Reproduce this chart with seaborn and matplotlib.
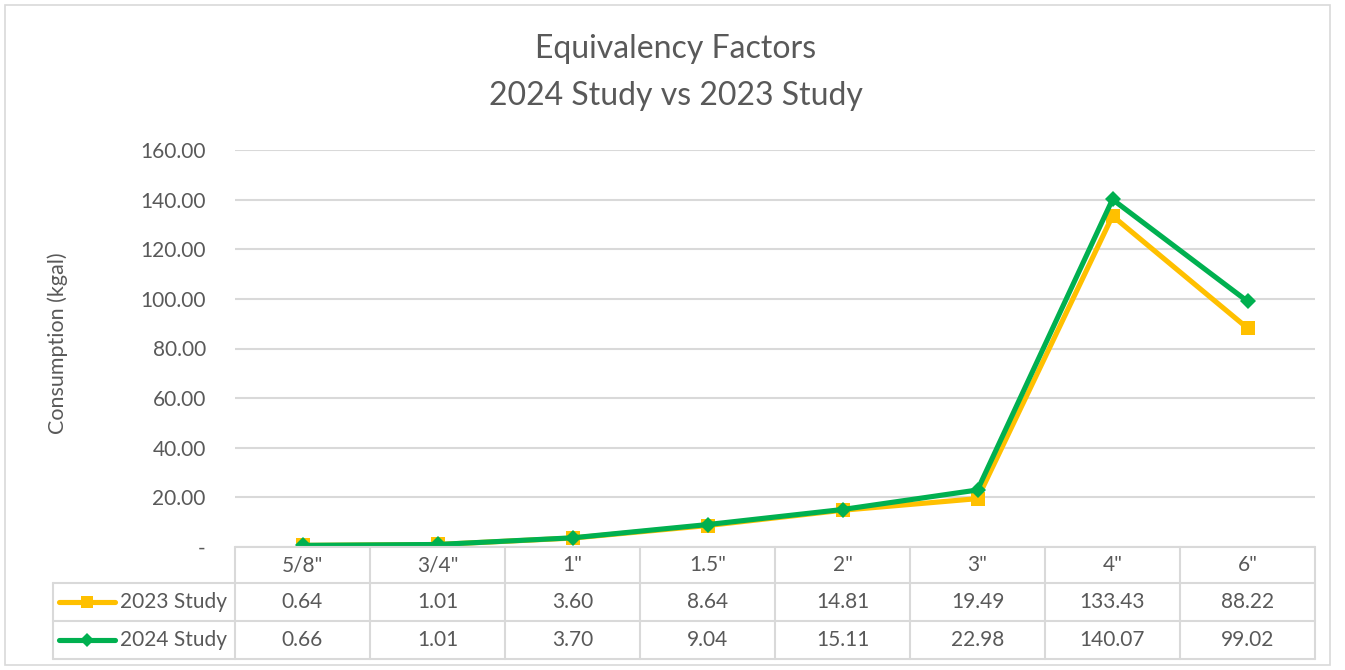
import pandas as pd
import matplotlib.pyplot as plt
import matplotlib.transforms as mtransforms
from matplotlib.ticker import FuncFormatter
from matplotlib.patches import Rectangle
import seaborn as sns

sizes = ['5/8"', '3/4"', '1"', '1.5"', '2"', '3"', '4"', '6"']
study_2023 = [0.64, 1.01, 3.60, 8.64, 14.81, 19.49, 133.43, 88.22]
study_2024 = [0.66, 1.01, 3.70, 9.04, 15.11, 22.98, 140.07, 99.02]
series_names = ['2023 Study', '2024 Study']

df = pd.DataFrame({
    'size': sizes * 2,
    'value': study_2023 + study_2024,
    'study': [series_names[0]] * len(sizes) + [series_names[1]] * len(sizes),
})

sns.set_theme(style="white")
plt.rcParams['font.family'] = ['Lato', 'DejaVu Sans']

text_color = '#595959'
grid_color = '#d9d9d9'
colors = {'2023 Study': '#FFC000', '2024 Study': '#00B050'}
markers = {'2023 Study': 's', '2024 Study': 'D'}
msizes = {'2023 Study': 10, '2024 Study': 8}

fig = plt.figure(figsize=(13.45, 6.7), dpi=100)
ax = fig.add_axes([235 / 1345, 123 / 670, 1080 / 1345, 397 / 670])

for name in series_names:
    sns.lineplot(data=df[df['study'] == name], x='size', y='value',
                 color=colors[name], marker=markers[name], markersize=msizes[name],
                 markeredgewidth=0, linewidth=3.7, sort=False, ax=ax)

ax.set_xlim(-0.5, len(sizes) - 0.5)
ax.set_ylim(0, 160)
ax.set_yticks(range(0, 161, 20))
ax.yaxis.set_major_formatter(FuncFormatter(lambda v, p: '-' if v == 0 else f'{v:.2f}'))
ax.tick_params(axis='y', length=0, pad=21, labelsize=15, labelcolor=text_color)
ax.set_xticks([])
ax.set_xlabel('')
ax.set_ylabel('')
ax.grid(axis='y', color=grid_color, linewidth=1.5)
for s in ax.spines.values():
    s.set_visible(False)

# data table under the plot
trans = mtransforms.blended_transform_factory(ax.transData, ax.transAxes)
px = len(sizes) / 1080  # one pixel in data units
row_edges = [0, -36 / 397, -74 / 397, -112 / 397]
left = -0.5 - 182 * px
right = len(sizes) - 0.5
line_kw = dict(color=grid_color, linewidth=1.5, transform=trans, clip_on=False)

ax.plot([-0.5, right], [row_edges[0]] * 2, **line_kw)
for y in row_edges[1:]:
    ax.plot([left, right], [y, y], **line_kw)
ax.plot([left, left], [row_edges[1], row_edges[3]], **line_kw)
for i in range(len(sizes) + 1):
    ax.plot([i - 0.5, i - 0.5], [row_edges[0], row_edges[3]], **line_kw)

row_mid = [(row_edges[k] + row_edges[k + 1]) / 2 for k in range(3)]
cell_kw = dict(ha='center', va='center', fontsize=15, color=text_color, transform=trans)
for i, lab in enumerate(sizes):
    ax.text(i, row_mid[0], lab, **cell_kw)
for i, v in enumerate(study_2023):
    ax.text(i, row_mid[1], f'{v:.2f}', **cell_kw)
for i, v in enumerate(study_2024):
    ax.text(i, row_mid[2], f'{v:.2f}', **cell_kw)

# legend keys inside the table
for name, y in zip(series_names, row_mid[1:]):
    x0, x1 = left + 6 * px, left + 62 * px
    ax.plot([x0, x1], [y, y], color=colors[name], linewidth=3.7,
            transform=trans, clip_on=False, solid_capstyle='round')
    ax.plot([(x0 + x1) / 2], [y], marker=markers[name], color=colors[name],
            markersize=msizes[name] - 1, markeredgewidth=0, transform=trans, clip_on=False)
    ax.text(left + 67 * px, y, name, ha='left', va='center', fontsize=15,
            color=text_color, transform=trans)

fig.text(58 / 1345, 1 - 343 / 670, 'Consumption (kgal)', rotation=90,
         ha='center', va='center', fontsize=15.5, color=text_color)
fig.suptitle('Equivalency Factors\n2024 Study vs 2023 Study', x=676 / 1345,
             y=1 - 34 / 670, va='top', fontsize=23, color=text_color, linespacing=1.7)

fig.add_artist(Rectangle((5 / 1345, 5 / 670), 1325 / 1345, 660 / 670,
                         transform=fig.transFigure, fill=False,
                         edgecolor=grid_color, linewidth=1.2))

fig.savefig('out.png', dpi=100)
